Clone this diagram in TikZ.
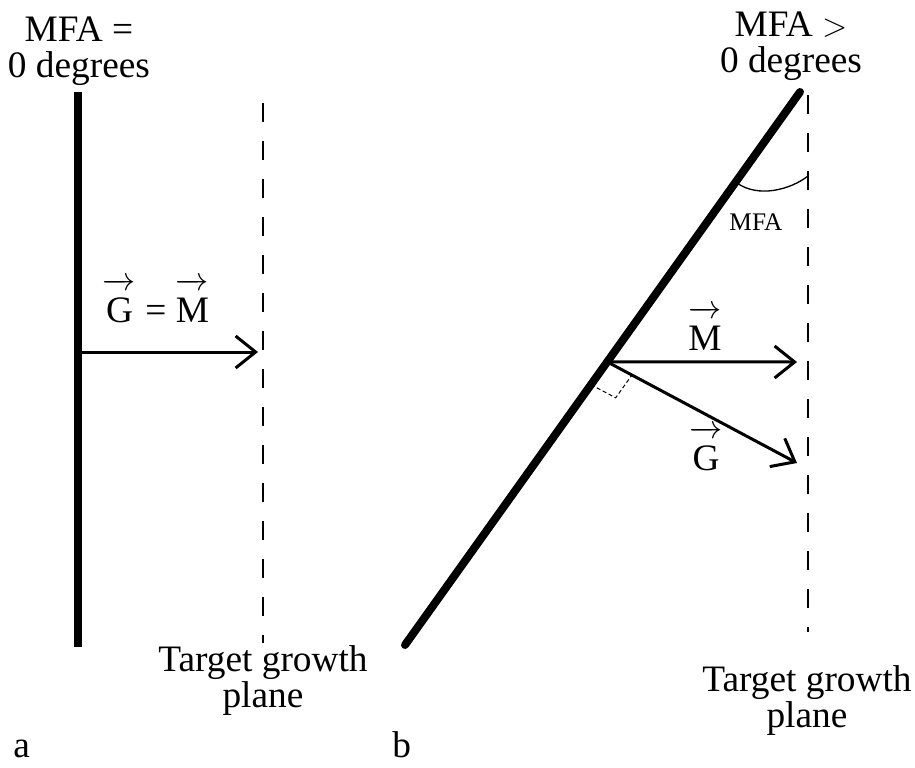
\documentclass[tikz,border=0pt]{standalone}
\usepackage{amsmath}
\usepackage{fontspec}
\setmainfont{Liberation Serif}
\usetikzlibrary{arrows.meta,calc}
\newcommand{\vlet}[1]{$\overrightarrow{\raisebox{0pt}[\dimexpr\height+5pt\relax]{#1}}$}

\begin{document}
\begin{tikzpicture}[x=0.75pt,y=-0.75pt,>={Straight Barb[length=15pt,width=24pt]},
    big/.style={font=\fontsize{28}{26.5}\selectfont,inner sep=0pt,align=center},
    small/.style={font=\fontsize{19}{19}\selectfont,inner sep=0pt},
    fibre/.style={line width=6pt},
    plane/.style={line width=1.5pt,dash pattern=on 14.5pt off 14pt},
    vect/.style={->,line width=2.25pt}]
  \useasboundingbox (0,0) rectangle (915,768);
  % (a) fibres parallel to the growth direction
  \coordinate (atop) at (78,92);
  \coordinate (abot) at (78,647);
  \coordinate (ptop) at (263,103);
  \coordinate (pbot) at (263,643);
  \coordinate (aP) at (78,352);
  \coordinate (aend) at (258,352);
  \draw[fibre] (atop) -- (abot);
  \draw[plane] (ptop) -- (pbot);
  \draw[vect] (aP) -- (aend);
  \node[big,anchor=base] (atitle) at (79,77) {MFA =\\0 degrees};
  \node[big,anchor=base] (avec) at (156,322) {\vlet{G} = \vlet{M}};
  \node[big,anchor=base] (aplane) at (263,707) {Target growth\\plane};
  \node[big,anchor=base west] (alab) at (13,757) {a};
  % (b) fibres tilted by the MFA
  \coordinate (btop) at (800,92);
  \coordinate (bbot) at (405,645);
  \coordinate (qtop) at (808,95);
  \coordinate (qbot) at (808,632);
  \coordinate (bP) at ($(btop)!0.488!(bbot)$);
  \coordinate (Mend) at (797,362);
  \coordinate (Gend) at (797,463);
  \draw[fibre,line cap=round] (btop) -- (bbot);
  \draw[plane] (qtop) -- (qbot);
  \draw[vect] (bP) -- (Mend);
  \draw[vect] (bP) -- (Gend);
  % right angle mark
  \coordinate (r1) at ($(bP)!21pt!(bbot)$);
  \coordinate (r2) at ($(bP)!21pt!(Gend)$);
  \draw[line width=0.75pt,densely dashed] (r1) -- ($(r1)+(r2)-(bP)$) -- (r2);
  % angle arc
  \coordinate (arcA) at (737,183);
  \coordinate (arcB) at (808,176);
  \draw[line width=1pt] (arcA) .. controls (758,198) and (790,190) .. (arcB);
  \node[small,anchor=base] (mfa) at (756,230) {MFA};
  \node[big,anchor=base] (btitle) at (791,72) {MFA $>$\\0 degrees};
  \node[big,anchor=base] (Mlab) at (705,350) {\vlet{M}};
  \node[big,anchor=base] (Glab) at (706,470) {\vlet{G}};
  \node[big,anchor=base] (bplane) at (807,727) {Target growth\\plane};
  \node[big,anchor=base west] (blab) at (392,757) {b};
\end{tikzpicture}
\end{document}
